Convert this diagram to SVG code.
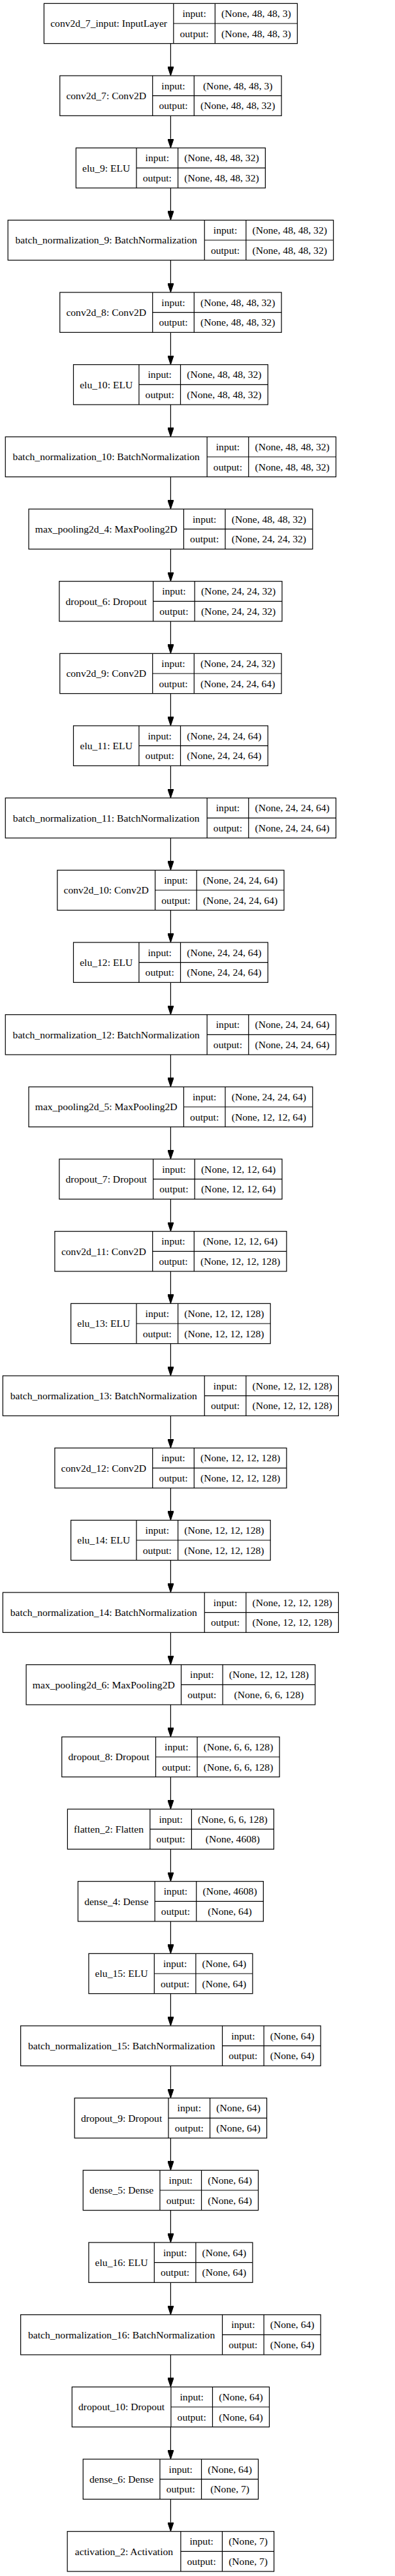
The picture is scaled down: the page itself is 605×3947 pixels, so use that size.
<svg xmlns="http://www.w3.org/2000/svg" width="605" height="3947" viewBox="0 0 605 3947">
<defs>
<style>
.b{fill:#fff;stroke:#000;stroke-width:1.2}
.d{fill:none;stroke:#000;stroke-width:1.2}
text{font-family:"Liberation Serif","Times New Roman",serif;font-size:15.6px;text-anchor:middle;fill:#000}
.e{stroke:#000;stroke-width:1.2;fill:none;marker-end:url(#ah)}
</style>
<marker id="ah" markerUnits="userSpaceOnUse" markerWidth="14" markerHeight="9.4" viewBox="0 0 14 9.4" refX="0" refY="4.7" orient="auto"><path d="M0,0L14,4.7L0,9.4z" fill="#000" stroke="#000" stroke-width="1"/></marker>
</defs>
<rect x="0" y="0" width="605" height="3947" fill="#fff"/>
<g id="connectors">
<path class="e" d="M261.4,66.67V102"/>
<path class="e" d="M261.4,177.33V212.67"/>
<path class="e" d="M261.4,288V323.33"/>
<path class="e" d="M261.4,398.67V434"/>
<path class="e" d="M261.4,509.33V544.67"/>
<path class="e" d="M261.4,620V655.33"/>
<path class="e" d="M261.4,730.67V766"/>
<path class="e" d="M261.4,841.33V876.67"/>
<path class="e" d="M261.4,952V987.33"/>
<path class="e" d="M261.4,1062.67V1098"/>
<path class="e" d="M261.4,1173.33V1208.67"/>
<path class="e" d="M261.4,1284V1319.33"/>
<path class="e" d="M261.4,1394.67V1430"/>
<path class="e" d="M261.4,1505.33V1540.67"/>
<path class="e" d="M261.4,1616V1651.33"/>
<path class="e" d="M261.4,1726.67V1762"/>
<path class="e" d="M261.4,1837.33V1872.67"/>
<path class="e" d="M261.4,1948V1983.33"/>
<path class="e" d="M261.4,2058.67V2094"/>
<path class="e" d="M261.4,2169.33V2204.67"/>
<path class="e" d="M261.4,2280V2315.33"/>
<path class="e" d="M261.4,2390.67V2426"/>
<path class="e" d="M261.4,2501.33V2536.67"/>
<path class="e" d="M261.4,2612V2647.33"/>
<path class="e" d="M261.4,2722.67V2758"/>
<path class="e" d="M261.4,2833.33V2868.67"/>
<path class="e" d="M261.4,2944V2979.33"/>
<path class="e" d="M261.4,3054.67V3090"/>
<path class="e" d="M261.4,3165.33V3200.67"/>
<path class="e" d="M261.4,3276V3311.33"/>
<path class="e" d="M261.4,3386.67V3422"/>
<path class="e" d="M261.4,3497.33V3532.67"/>
<path class="e" d="M261.4,3608V3643.33"/>
<path class="e" d="M261.4,3718.67V3754"/>
<path class="e" d="M261.4,3829.33V3864.67"/>
</g>
<g id="n0" transform="translate(67.4,5.33)"><rect class="b" width="388" height="61.33"/><path class="d" d="M198.4,0V61.33M262,0V61.33M198.4,30.67H388"/><text x="99.2" y="36.1">conv2d_7_input: InputLayer</text><text x="230.2" y="20.7">input:</text><text x="230.2" y="51.4">output:</text><text x="325" y="20.7">(None, 48, 48, 3)</text><text x="325" y="51.4">(None, 48, 48, 3)</text></g>
<g id="n1" transform="translate(91.7,116)"><rect class="b" width="339.4" height="61.33"/><path class="d" d="M142,0V61.33M205.6,0V61.33M142,30.67H339.4"/><text x="71" y="36.1">conv2d_7: Conv2D</text><text x="173.8" y="20.7">input:</text><text x="173.8" y="51.4">output:</text><text x="272.5" y="20.7">(None, 48, 48, 3)</text><text x="272.5" y="51.4">(None, 48, 48, 32)</text></g>
<g id="n2" transform="translate(116.4,226.67)"><rect class="b" width="290" height="61.33"/><path class="d" d="M92.6,0V61.33M156.2,0V61.33M92.6,30.67H290"/><text x="46.3" y="36.1">elu_9: ELU</text><text x="124.4" y="20.7">input:</text><text x="124.4" y="51.4">output:</text><text x="223.1" y="20.7">(None, 48, 48, 32)</text><text x="223.1" y="51.4">(None, 48, 48, 32)</text></g>
<g id="n3" transform="translate(12.15,337.33)"><rect class="b" width="498.5" height="61.33"/><path class="d" d="M301.1,0V61.33M364.7,0V61.33M301.1,30.67H498.5"/><text x="150.55" y="36.1">batch_normalization_9: BatchNormalization</text><text x="332.9" y="20.7">input:</text><text x="332.9" y="51.4">output:</text><text x="431.6" y="20.7">(None, 48, 48, 32)</text><text x="431.6" y="51.4">(None, 48, 48, 32)</text></g>
<g id="n4" transform="translate(91.7,448)"><rect class="b" width="339.4" height="61.33"/><path class="d" d="M142,0V61.33M205.6,0V61.33M142,30.67H339.4"/><text x="71" y="36.1">conv2d_8: Conv2D</text><text x="173.8" y="20.7">input:</text><text x="173.8" y="51.4">output:</text><text x="272.5" y="20.7">(None, 48, 48, 32)</text><text x="272.5" y="51.4">(None, 48, 48, 32)</text></g>
<g id="n5" transform="translate(112.5,558.67)"><rect class="b" width="297.8" height="61.33"/><path class="d" d="M100.4,0V61.33M164,0V61.33M100.4,30.67H297.8"/><text x="50.2" y="36.1">elu_10: ELU</text><text x="132.2" y="20.7">input:</text><text x="132.2" y="51.4">output:</text><text x="230.9" y="20.7">(None, 48, 48, 32)</text><text x="230.9" y="51.4">(None, 48, 48, 32)</text></g>
<g id="n6" transform="translate(8.25,669.33)"><rect class="b" width="506.3" height="61.33"/><path class="d" d="M308.9,0V61.33M372.5,0V61.33M308.9,30.67H506.3"/><text x="154.45" y="36.1">batch_normalization_10: BatchNormalization</text><text x="340.7" y="20.7">input:</text><text x="340.7" y="51.4">output:</text><text x="439.4" y="20.7">(None, 48, 48, 32)</text><text x="439.4" y="51.4">(None, 48, 48, 32)</text></g>
<g id="n7" transform="translate(44,780)"><rect class="b" width="434.8" height="61.33"/><path class="d" d="M237.4,0V61.33M301,0V61.33M237.4,30.67H434.8"/><text x="118.7" y="36.1">max_pooling2d_4: MaxPooling2D</text><text x="269.2" y="20.7">input:</text><text x="269.2" y="51.4">output:</text><text x="367.9" y="20.7">(None, 48, 48, 32)</text><text x="367.9" y="51.4">(None, 24, 24, 32)</text></g>
<g id="n8" transform="translate(90.8,890.67)"><rect class="b" width="341.2" height="61.33"/><path class="d" d="M143.8,0V61.33M207.4,0V61.33M143.8,30.67H341.2"/><text x="71.9" y="36.1">dropout_6: Dropout</text><text x="175.6" y="20.7">input:</text><text x="175.6" y="51.4">output:</text><text x="274.3" y="20.7">(None, 24, 24, 32)</text><text x="274.3" y="51.4">(None, 24, 24, 32)</text></g>
<g id="n9" transform="translate(91.7,1001.33)"><rect class="b" width="339.4" height="61.33"/><path class="d" d="M142,0V61.33M205.6,0V61.33M142,30.67H339.4"/><text x="71" y="36.1">conv2d_9: Conv2D</text><text x="173.8" y="20.7">input:</text><text x="173.8" y="51.4">output:</text><text x="272.5" y="20.7">(None, 24, 24, 32)</text><text x="272.5" y="51.4">(None, 24, 24, 64)</text></g>
<g id="n10" transform="translate(112.5,1112)"><rect class="b" width="297.8" height="61.33"/><path class="d" d="M100.4,0V61.33M164,0V61.33M100.4,30.67H297.8"/><text x="50.2" y="36.1">elu_11: ELU</text><text x="132.2" y="20.7">input:</text><text x="132.2" y="51.4">output:</text><text x="230.9" y="20.7">(None, 24, 24, 64)</text><text x="230.9" y="51.4">(None, 24, 24, 64)</text></g>
<g id="n11" transform="translate(8.25,1222.67)"><rect class="b" width="506.3" height="61.33"/><path class="d" d="M308.9,0V61.33M372.5,0V61.33M308.9,30.67H506.3"/><text x="154.45" y="36.1">batch_normalization_11: BatchNormalization</text><text x="340.7" y="20.7">input:</text><text x="340.7" y="51.4">output:</text><text x="439.4" y="20.7">(None, 24, 24, 64)</text><text x="439.4" y="51.4">(None, 24, 24, 64)</text></g>
<g id="n12" transform="translate(87.8,1333.33)"><rect class="b" width="347.2" height="61.33"/><path class="d" d="M149.8,0V61.33M213.4,0V61.33M149.8,30.67H347.2"/><text x="74.9" y="36.1">conv2d_10: Conv2D</text><text x="181.6" y="20.7">input:</text><text x="181.6" y="51.4">output:</text><text x="280.3" y="20.7">(None, 24, 24, 64)</text><text x="280.3" y="51.4">(None, 24, 24, 64)</text></g>
<g id="n13" transform="translate(112.5,1444)"><rect class="b" width="297.8" height="61.33"/><path class="d" d="M100.4,0V61.33M164,0V61.33M100.4,30.67H297.8"/><text x="50.2" y="36.1">elu_12: ELU</text><text x="132.2" y="20.7">input:</text><text x="132.2" y="51.4">output:</text><text x="230.9" y="20.7">(None, 24, 24, 64)</text><text x="230.9" y="51.4">(None, 24, 24, 64)</text></g>
<g id="n14" transform="translate(8.25,1554.67)"><rect class="b" width="506.3" height="61.33"/><path class="d" d="M308.9,0V61.33M372.5,0V61.33M308.9,30.67H506.3"/><text x="154.45" y="36.1">batch_normalization_12: BatchNormalization</text><text x="340.7" y="20.7">input:</text><text x="340.7" y="51.4">output:</text><text x="439.4" y="20.7">(None, 24, 24, 64)</text><text x="439.4" y="51.4">(None, 24, 24, 64)</text></g>
<g id="n15" transform="translate(44,1665.33)"><rect class="b" width="434.8" height="61.33"/><path class="d" d="M237.4,0V61.33M301,0V61.33M237.4,30.67H434.8"/><text x="118.7" y="36.1">max_pooling2d_5: MaxPooling2D</text><text x="269.2" y="20.7">input:</text><text x="269.2" y="51.4">output:</text><text x="367.9" y="20.7">(None, 24, 24, 64)</text><text x="367.9" y="51.4">(None, 12, 12, 64)</text></g>
<g id="n16" transform="translate(90.8,1776)"><rect class="b" width="341.2" height="61.33"/><path class="d" d="M143.8,0V61.33M207.4,0V61.33M143.8,30.67H341.2"/><text x="71.9" y="36.1">dropout_7: Dropout</text><text x="175.6" y="20.7">input:</text><text x="175.6" y="51.4">output:</text><text x="274.3" y="20.7">(None, 12, 12, 64)</text><text x="274.3" y="51.4">(None, 12, 12, 64)</text></g>
<g id="n17" transform="translate(83.9,1886.67)"><rect class="b" width="355" height="61.33"/><path class="d" d="M149.8,0V61.33M213.4,0V61.33M149.8,30.67H355"/><text x="74.9" y="36.1">conv2d_11: Conv2D</text><text x="181.6" y="20.7">input:</text><text x="181.6" y="51.4">output:</text><text x="284.2" y="20.7">(None, 12, 12, 64)</text><text x="284.2" y="51.4">(None, 12, 12, 128)</text></g>
<g id="n18" transform="translate(108.6,1997.33)"><rect class="b" width="305.6" height="61.33"/><path class="d" d="M100.4,0V61.33M164,0V61.33M100.4,30.67H305.6"/><text x="50.2" y="36.1">elu_13: ELU</text><text x="132.2" y="20.7">input:</text><text x="132.2" y="51.4">output:</text><text x="234.8" y="20.7">(None, 12, 12, 128)</text><text x="234.8" y="51.4">(None, 12, 12, 128)</text></g>
<g id="n19" transform="translate(4.35,2108)"><rect class="b" width="514.1" height="61.33"/><path class="d" d="M308.9,0V61.33M372.5,0V61.33M308.9,30.67H514.1"/><text x="154.45" y="36.1">batch_normalization_13: BatchNormalization</text><text x="340.7" y="20.7">input:</text><text x="340.7" y="51.4">output:</text><text x="443.3" y="20.7">(None, 12, 12, 128)</text><text x="443.3" y="51.4">(None, 12, 12, 128)</text></g>
<g id="n20" transform="translate(83.9,2218.67)"><rect class="b" width="355" height="61.33"/><path class="d" d="M149.8,0V61.33M213.4,0V61.33M149.8,30.67H355"/><text x="74.9" y="36.1">conv2d_12: Conv2D</text><text x="181.6" y="20.7">input:</text><text x="181.6" y="51.4">output:</text><text x="284.2" y="20.7">(None, 12, 12, 128)</text><text x="284.2" y="51.4">(None, 12, 12, 128)</text></g>
<g id="n21" transform="translate(108.6,2329.33)"><rect class="b" width="305.6" height="61.33"/><path class="d" d="M100.4,0V61.33M164,0V61.33M100.4,30.67H305.6"/><text x="50.2" y="36.1">elu_14: ELU</text><text x="132.2" y="20.7">input:</text><text x="132.2" y="51.4">output:</text><text x="234.8" y="20.7">(None, 12, 12, 128)</text><text x="234.8" y="51.4">(None, 12, 12, 128)</text></g>
<g id="n22" transform="translate(4.35,2440)"><rect class="b" width="514.1" height="61.33"/><path class="d" d="M308.9,0V61.33M372.5,0V61.33M308.9,30.67H514.1"/><text x="154.45" y="36.1">batch_normalization_14: BatchNormalization</text><text x="340.7" y="20.7">input:</text><text x="340.7" y="51.4">output:</text><text x="443.3" y="20.7">(None, 12, 12, 128)</text><text x="443.3" y="51.4">(None, 12, 12, 128)</text></g>
<g id="n23" transform="translate(40.1,2550.67)"><rect class="b" width="442.6" height="61.33"/><path class="d" d="M237.4,0V61.33M301,0V61.33M237.4,30.67H442.6"/><text x="118.7" y="36.1">max_pooling2d_6: MaxPooling2D</text><text x="269.2" y="20.7">input:</text><text x="269.2" y="51.4">output:</text><text x="371.8" y="20.7">(None, 12, 12, 128)</text><text x="371.8" y="51.4">(None, 6, 6, 128)</text></g>
<g id="n24" transform="translate(94.7,2661.33)"><rect class="b" width="333.4" height="61.33"/><path class="d" d="M143.8,0V61.33M207.4,0V61.33M143.8,30.67H333.4"/><text x="71.9" y="36.1">dropout_8: Dropout</text><text x="175.6" y="20.7">input:</text><text x="175.6" y="51.4">output:</text><text x="270.4" y="20.7">(None, 6, 6, 128)</text><text x="270.4" y="51.4">(None, 6, 6, 128)</text></g>
<g id="n25" transform="translate(103.4,2772)"><rect class="b" width="316" height="61.33"/><path class="d" d="M126.4,0V61.33M190,0V61.33M126.4,30.67H316"/><text x="63.2" y="36.1">flatten_2: Flatten</text><text x="158.2" y="20.7">input:</text><text x="158.2" y="51.4">output:</text><text x="253" y="20.7">(None, 6, 6, 128)</text><text x="253" y="51.4">(None, 4608)</text></g>
<g id="n26" transform="translate(119.45,2882.67)"><rect class="b" width="283.9" height="61.33"/><path class="d" d="M117.7,0V61.33M181.3,0V61.33M117.7,30.67H283.9"/><text x="58.85" y="36.1">dense_4: Dense</text><text x="149.5" y="20.7">input:</text><text x="149.5" y="51.4">output:</text><text x="232.6" y="20.7">(None, 4608)</text><text x="232.6" y="51.4">(None, 64)</text></g>
<g id="n27" transform="translate(135.9,2993.33)"><rect class="b" width="251" height="61.33"/><path class="d" d="M100.4,0V61.33M164,0V61.33M100.4,30.67H251"/><text x="50.2" y="36.1">elu_15: ELU</text><text x="132.2" y="20.7">input:</text><text x="132.2" y="51.4">output:</text><text x="207.5" y="20.7">(None, 64)</text><text x="207.5" y="51.4">(None, 64)</text></g>
<g id="n28" transform="translate(31.65,3104)"><rect class="b" width="459.5" height="61.33"/><path class="d" d="M308.9,0V61.33M372.5,0V61.33M308.9,30.67H459.5"/><text x="154.45" y="36.1">batch_normalization_15: BatchNormalization</text><text x="340.7" y="20.7">input:</text><text x="340.7" y="51.4">output:</text><text x="416" y="20.7">(None, 64)</text><text x="416" y="51.4">(None, 64)</text></g>
<g id="n29" transform="translate(114.2,3214.67)"><rect class="b" width="294.4" height="61.33"/><path class="d" d="M143.8,0V61.33M207.4,0V61.33M143.8,30.67H294.4"/><text x="71.9" y="36.1">dropout_9: Dropout</text><text x="175.6" y="20.7">input:</text><text x="175.6" y="51.4">output:</text><text x="250.9" y="20.7">(None, 64)</text><text x="250.9" y="51.4">(None, 64)</text></g>
<g id="n30" transform="translate(127.25,3325.33)"><rect class="b" width="268.3" height="61.33"/><path class="d" d="M117.7,0V61.33M181.3,0V61.33M117.7,30.67H268.3"/><text x="58.85" y="36.1">dense_5: Dense</text><text x="149.5" y="20.7">input:</text><text x="149.5" y="51.4">output:</text><text x="224.8" y="20.7">(None, 64)</text><text x="224.8" y="51.4">(None, 64)</text></g>
<g id="n31" transform="translate(135.9,3436)"><rect class="b" width="251" height="61.33"/><path class="d" d="M100.4,0V61.33M164,0V61.33M100.4,30.67H251"/><text x="50.2" y="36.1">elu_16: ELU</text><text x="132.2" y="20.7">input:</text><text x="132.2" y="51.4">output:</text><text x="207.5" y="20.7">(None, 64)</text><text x="207.5" y="51.4">(None, 64)</text></g>
<g id="n32" transform="translate(31.65,3546.67)"><rect class="b" width="459.5" height="61.33"/><path class="d" d="M308.9,0V61.33M372.5,0V61.33M308.9,30.67H459.5"/><text x="154.45" y="36.1">batch_normalization_16: BatchNormalization</text><text x="340.7" y="20.7">input:</text><text x="340.7" y="51.4">output:</text><text x="416" y="20.7">(None, 64)</text><text x="416" y="51.4">(None, 64)</text></g>
<g id="n33" transform="translate(110.3,3657.33)"><rect class="b" width="302.2" height="61.33"/><path class="d" d="M151.6,0V61.33M215.2,0V61.33M151.6,30.67H302.2"/><text x="75.8" y="36.1">dropout_10: Dropout</text><text x="183.4" y="20.7">input:</text><text x="183.4" y="51.4">output:</text><text x="258.7" y="20.7">(None, 64)</text><text x="258.7" y="51.4">(None, 64)</text></g>
<g id="n34" transform="translate(127.25,3768)"><rect class="b" width="268.3" height="61.33"/><path class="d" d="M117.7,0V61.33M181.3,0V61.33M117.7,30.67H268.3"/><text x="58.85" y="36.1">dense_6: Dense</text><text x="149.5" y="20.7">input:</text><text x="149.5" y="51.4">output:</text><text x="224.8" y="20.7">(None, 64)</text><text x="224.8" y="51.4">(None, 7)</text></g>
<g id="n35" transform="translate(103.15,3878.67)"><rect class="b" width="316.5" height="61.33"/><path class="d" d="M173.7,0V61.33M237.3,0V61.33M173.7,30.67H316.5"/><text x="86.85" y="36.1">activation_2: Activation</text><text x="205.5" y="20.7">input:</text><text x="205.5" y="51.4">output:</text><text x="276.9" y="20.7">(None, 7)</text><text x="276.9" y="51.4">(None, 7)</text></g>
</svg>
